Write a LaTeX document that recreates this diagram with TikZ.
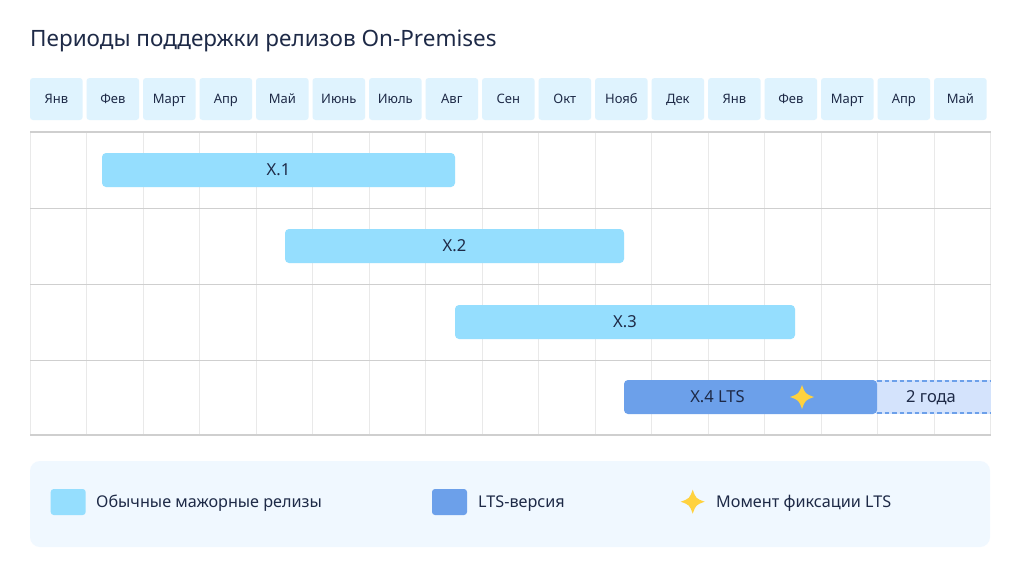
\documentclass[tikz,border=0pt]{standalone}
\usepackage{fontspec}
\setmainfont{Noto Sans}
\definecolor{txt}{HTML}{1E2A47}
\definecolor{cellc}{HTML}{DFF3FE}
\definecolor{barc}{HTML}{95DEFE}
\definecolor{ltsc}{HTML}{6CA0EA}
\definecolor{extc}{HTML}{D4E3FC}
\definecolor{legc}{HTML}{F0F8FF}
\definecolor{starc}{HTML}{FFD23F}
\definecolor{gridv}{HTML}{E9E9E9}
\definecolor{gridh}{HTML}{CFCFCF}
\tikzset{
  monthcell/.style={fill=cellc, rounded corners=3pt, minimum width=52.7pt, minimum height=42pt, inner sep=0pt, text=txt, text height=9.3pt, text depth=0pt, font=\fontsize{13}{15}\selectfont},
  relbar/.style={fill=barc, rounded corners=4pt, minimum height=34pt, inner sep=0pt, text=txt, text height=11.8pt, text depth=0pt, font=\fontsize{16.5}{19}\selectfont},
  ltsbar/.style={relbar, fill=ltsc},
  labeltext/.style={inner sep=0pt, text=txt, text height=11.8pt, text depth=0pt, font=\fontsize{16.5}{19}\selectfont},
  legtext/.style={inner sep=0pt, anchor=west, text=txt, text height=11.6pt, text depth=0pt, font=\fontsize{16.2}{19}\selectfont},
  swatch/.style={rounded corners=3pt, minimum width=35pt, minimum height=26pt, inner sep=0pt},
  sparkle/.pic={\fill[starc] (0,-12) .. controls (3.2,-3.2) .. (12,0) .. controls (3.2,3.2) .. (0,12) .. controls (-3.2,3.2) .. (-12,0) .. controls (-3.2,-3.2) .. (0,-12) -- cycle;}
}
\begin{document}
\begin{tikzpicture}[x=1pt,y=-1pt]
\useasboundingbox[fill=white] (0,0) rectangle (1025,574);
% title
\node[anchor=west, inner sep=0pt, text=txt, text height=16pt, text depth=0pt, font=\fontsize{22.5}{26}\selectfont] (title) at (30,38) {Периоды поддержки релизов On-Premises};
% month header
\foreach \m [count=\k from 0] in {Янв,Фев,Март,Апр,Май,Июнь,Июль,Авг,Сен,Окт,Нояб,Дек,Янв,Фев,Март,Апр,Май}{
  \node[monthcell] (m\k) at ({30+56.5*\k+26.35},99) {\m};
}
% grid
\foreach \k in {0,...,17}{
  \draw[gridv, line width=1pt] ({30+56.5*\k},132) -- ({30+56.5*\k},435);
}
\foreach \yy in {208,284,360}{
  \draw[gridh, line width=1pt] (30,\yy) -- (990.5,\yy);
}
\draw[gridh, line width=1.6pt] (30,132) -- (990.5,132);
\draw[gridh, line width=1.6pt] (30,435) -- (990.5,435);
% bars
\node[relbar, minimum width=353pt] (x1) at (278.5,170) {X.1};
\node[relbar, minimum width=339pt] (x2) at (454.5,246) {X.2};
\node[relbar, minimum width=340pt] (x3) at (625,322) {X.3};
\fill[extc] (876,380) rectangle (990.5,414);
\draw[ltsc, line width=1.5pt, dash pattern=on 4.5pt off 3pt] (877,380.8) -- (990.5,380.8);
\draw[ltsc, line width=1.5pt, dash pattern=on 4.5pt off 3pt] (877,413.2) -- (990.5,413.2);
\node[ltsbar, minimum width=253pt] (x4) at (750.5,397) {};
\node[labeltext] (x4lbl) at (717.5,397) {X.4 LTS};
\node[labeltext] (ext) at (931,397) {2 года};
\pic at (802,397) {sparkle};
% legend
\node[fill=legc, rounded corners=10pt, minimum width=960pt, minimum height=86pt, inner sep=0pt] (legend) at (510,504) {};
\node[swatch, fill=barc] (sw1) at (68.2,502) {};
\node[legtext] (l1) at (96,502) {Обычные мажорные релизы};
\node[swatch, fill=ltsc] (sw2) at (449.5,502) {};
\node[legtext] (l2) at (478,502) {LTS-версия};
\pic at (692.7,501.7) {sparkle};
\node[legtext] (l3) at (716,502) {Момент фиксации LTS};
\end{tikzpicture}
\end{document}
